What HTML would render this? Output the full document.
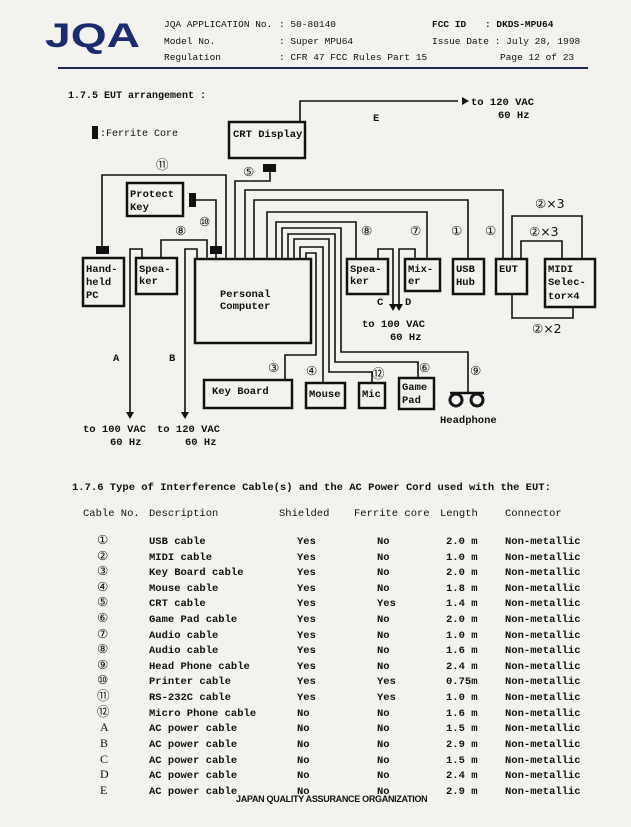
<!DOCTYPE html>
<html><head><meta charset="utf-8"><style>
html,body{margin:0;padding:0;background:#f3f2ee;}
svg{display:block}
text{font-family:"Liberation Mono",monospace;fill:#111;}
.b{font-weight:bold}
.c{font-family:'DejaVu Sans',sans-serif;font-weight:normal;font-size:12.5px}
.l{font-family:'Liberation Serif',serif;font-weight:normal;font-size:12px}
</style></head><body>
<svg width="631" height="827" viewBox="0 0 631 827" xmlns="http://www.w3.org/2000/svg">
<rect width="631" height="827" fill="#f3f2ee"/>
<!-- header -->
<text x="45" y="47" textLength="95" lengthAdjust="spacingAndGlyphs" style="font-family:'Liberation Sans',sans-serif;font-weight:bold;font-size:34px;fill:#1c2a6e">JQA</text>
<g font-size="9.5">
<text x="164" y="27">JQA APPLICATION No.</text><text x="279" y="27">: 50-80140</text>
<text x="164" y="44">Model No.</text><text x="279" y="44">: Super MPU64</text>
<text x="164" y="60">Regulation</text><text x="279" y="60">: CFR 47 FCC Rules Part 15</text>
<text x="432" y="27" class="b">FCC ID</text><text x="485" y="27" class="b">: DKDS-MPU64</text>
<text x="432" y="44">Issue Date : July 28, 1998</text>
<text x="500" y="60">Page 12 of 23</text>
</g>
<line x1="58" y1="68" x2="588" y2="68" stroke="#1c2a50" stroke-width="2"/>
<text x="68" y="98" font-size="10" class="b">1.7.5 EUT arrangement :</text>
<rect x="92" y="126" width="6" height="13" fill="#111"/>
<text x="100" y="136" font-size="10">:Ferrite Core</text>

<g fill="none" stroke="#111" stroke-width="1.6">
<polyline points="300,122 300,101 458,101"/>
<polyline points="102,249 102,175 226,175 226,259"/>
<polyline points="196,200 216,200 216,259"/>
<polyline points="161,258 161,240 207,240 207,259"/>
<polyline points="270,166 270,181 235,181 235,259"/>
<polyline points="245,259 245,190 503,190 503,259"/>
<polyline points="254,259 254,200 468,200 468,259"/>
<polyline points="267,259 267,212 427,212 427,259"/>
<polyline points="276,259 276,222 356,222 356,259"/>
<polyline points="282,259 282,228 341,228 341,352 468,352 468,393"/>
<polyline points="288,259 288,234 335,234 335,362 418,362 418,378"/>
<polyline points="294,259 294,239 329,239 329,372 372,372 372,383"/>
<polyline points="300,259 300,247 323,247 323,383"/>
<polyline points="306,259 306,253 316,253 316,355 285,355 285,380"/>
<polyline points="142,258 142,249 130,249 130,414"/>
<polyline points="197,259 197,249 185,249 185,414"/>
<polyline points="378,259 378,249 393,249 393,306"/>
<polyline points="415,259 415,249 399,249 399,306"/>
<polyline points="512,259 512,216 582,216 582,259"/>
<polyline points="521,259 521,241 562,241 562,259"/>
<polyline points="512,294 512,318 573,318 573,307"/>
<line x1="450" y1="393" x2="484" y2="393" stroke-width="2.5"/>
</g>
<g fill="#111">
<polygon points="462,97 462,105 469,101"/>
<polygon points="126,412 134,412 130,419"/>
<polygon points="181,412 189,412 185,419"/>
<polygon points="389,304 397,304 393,311"/>
<polygon points="395,304 403,304 399,311"/>
<rect x="96" y="246" width="13" height="8"/>
<rect x="210" y="246" width="12" height="8"/>
<rect x="189" y="193" width="7" height="14"/>
<rect x="263" y="164" width="13" height="8"/>
</g>
<g fill="none" stroke="#111" stroke-width="3">
<circle cx="456" cy="400" r="6"/><circle cx="477" cy="400" r="6"/>
</g>
<g fill="#f3f2ee" stroke="#111" stroke-width="2.5">
<rect x="229" y="122" width="76" height="36"/>
<rect x="127" y="183" width="56" height="33"/>
<rect x="83" y="258" width="41" height="48"/>
<rect x="136" y="258" width="41" height="36"/>
<rect x="195" y="259" width="116" height="84"/>
<rect x="347" y="259" width="41" height="35"/>
<rect x="405" y="259" width="35" height="32"/>
<rect x="453" y="259" width="31" height="35"/>
<rect x="496" y="259" width="31" height="35"/>
<rect x="545" y="259" width="50" height="48"/>
<rect x="204" y="380" width="88" height="28"/>
<rect x="306" y="383" width="39" height="25"/>
<rect x="359" y="383" width="26" height="25"/>
<rect x="399" y="378" width="35" height="31"/>
</g>
<g font-size="10.5" class="b">
<text x="233" y="137">CRT Display</text>
<text x="130" y="197">Protect</text><text x="130" y="210">Key</text>
<text x="86" y="272">Hand-</text><text x="86" y="285">held</text><text x="86" y="298">PC</text>
<text x="139" y="272">Spea-</text><text x="139" y="284">ker</text>
<text x="220" y="297">Personal</text><text x="220" y="309">Computer</text>
<text x="350" y="272">Spea-</text><text x="350" y="284">ker</text>
<text x="408" y="272">Mix-</text><text x="408" y="284">er</text>
<text x="456" y="272">USB</text><text x="456" y="285">Hub</text>
<text x="499" y="272">EUT</text>
<text x="548" y="272">MIDI</text><text x="548" y="285">Selec-</text><text x="548" y="299">tor×4</text>
<text x="212" y="394">Key Board</text>
<text x="309" y="397">Mouse</text>
<text x="362" y="397">Mic</text>
<text x="402" y="390">Game</text><text x="402" y="403">Pad</text>
<text x="440" y="423">Headphone</text>
<text x="373" y="121">E</text>
<text x="471" y="105">to 120 VAC</text><text x="498" y="118">60 Hz</text>
<text x="113" y="361">A</text><text x="169" y="361">B</text>
<text x="83" y="432">to 100 VAC</text><text x="110" y="445">60 Hz</text>
<text x="157" y="432">to 120 VAC</text><text x="185" y="445">60 Hz</text>
<text x="377" y="305">C</text><text x="405" y="305">D</text>
<text x="362" y="327">to 100 VAC</text><text x="390" y="340">60 Hz</text>
</g>
<g>
<text x="156" y="169" class="c">⑪</text>
<text x="243" y="176" class="c">⑤</text>
<text x="199" y="226" class="c">⑩</text>
<text x="175" y="235" class="c">⑧</text>
<text x="361" y="235" class="c">⑧</text>
<text x="410" y="235" class="c">⑦</text>
<text x="451" y="235" class="c">①</text>
<text x="485" y="235" class="c">①</text>
<text x="268" y="372" class="c">③</text>
<text x="306" y="375" class="c">④</text>
<text x="372" y="378" class="c">⑫</text>
<text x="419" y="372" class="c">⑥</text>
<text x="470" y="375" class="c">⑨</text>
<text x="535" y="208" class="c">②×3</text>
<text x="529" y="236" class="c">②×3</text>
<text x="532" y="333" class="c">②×2</text>
</g>

<text x="72" y="490" font-size="10.5" class="b">1.7.6 Type of Interference Cable(s) and the AC Power Cord used with the EUT:</text>
<g font-size="10.5">
<text x="83" y="516">Cable No.</text><text x="149" y="516">Description</text><text x="279" y="516">Shielded</text><text x="354" y="516">Ferrite core</text><text x="440" y="516">Length</text><text x="505" y="516">Connector</text>
</g>
<g font-size="10.5" class="b">
<text y="544"><tspan x="97" class="c">①</tspan><tspan x="149">USB cable</tspan><tspan x="297">Yes</tspan><tspan x="377">No</tspan><tspan x="446">2.0 m</tspan><tspan x="505">Non-metallic</tspan></text>
<text y="560"><tspan x="97" class="c">②</tspan><tspan x="149">MIDI cable</tspan><tspan x="297">Yes</tspan><tspan x="377">No</tspan><tspan x="446">1.0 m</tspan><tspan x="505">Non-metallic</tspan></text>
<text y="575"><tspan x="97" class="c">③</tspan><tspan x="149">Key Board cable</tspan><tspan x="297">Yes</tspan><tspan x="377">No</tspan><tspan x="446">2.0 m</tspan><tspan x="505">Non-metallic</tspan></text>
<text y="591"><tspan x="97" class="c">④</tspan><tspan x="149">Mouse cable</tspan><tspan x="297">Yes</tspan><tspan x="377">No</tspan><tspan x="446">1.8 m</tspan><tspan x="505">Non-metallic</tspan></text>
<text y="606"><tspan x="97" class="c">⑤</tspan><tspan x="149">CRT cable</tspan><tspan x="297">Yes</tspan><tspan x="377">Yes</tspan><tspan x="446">1.4 m</tspan><tspan x="505">Non-metallic</tspan></text>
<text y="622"><tspan x="97" class="c">⑥</tspan><tspan x="149">Game Pad cable</tspan><tspan x="297">Yes</tspan><tspan x="377">No</tspan><tspan x="446">2.0 m</tspan><tspan x="505">Non-metallic</tspan></text>
<text y="638"><tspan x="97" class="c">⑦</tspan><tspan x="149">Audio cable</tspan><tspan x="297">Yes</tspan><tspan x="377">No</tspan><tspan x="446">1.0 m</tspan><tspan x="505">Non-metallic</tspan></text>
<text y="653"><tspan x="97" class="c">⑧</tspan><tspan x="149">Audio cable</tspan><tspan x="297">Yes</tspan><tspan x="377">No</tspan><tspan x="446">1.6 m</tspan><tspan x="505">Non-metallic</tspan></text>
<text y="669"><tspan x="97" class="c">⑨</tspan><tspan x="149">Head Phone cable</tspan><tspan x="297">Yes</tspan><tspan x="377">No</tspan><tspan x="446">2.4 m</tspan><tspan x="505">Non-metallic</tspan></text>
<text y="684"><tspan x="97" class="c">⑩</tspan><tspan x="149">Printer cable</tspan><tspan x="297">Yes</tspan><tspan x="377">Yes</tspan><tspan x="446">0.75m</tspan><tspan x="505">Non-metallic</tspan></text>
<text y="700"><tspan x="97" class="c">⑪</tspan><tspan x="149">RS-232C cable</tspan><tspan x="297">Yes</tspan><tspan x="377">Yes</tspan><tspan x="446">1.0 m</tspan><tspan x="505">Non-metallic</tspan></text>
<text y="716"><tspan x="97" class="c">⑫</tspan><tspan x="149">Micro Phone cable</tspan><tspan x="297">No</tspan><tspan x="377">No</tspan><tspan x="446">1.6 m</tspan><tspan x="505">Non-metallic</tspan></text>
<text y="731"><tspan x="100" class="l">A</tspan><tspan x="149">AC power cable</tspan><tspan x="297">No</tspan><tspan x="377">No</tspan><tspan x="446">1.5 m</tspan><tspan x="505">Non-metallic</tspan></text>
<text y="747"><tspan x="100" class="l">B</tspan><tspan x="149">AC power cable</tspan><tspan x="297">No</tspan><tspan x="377">No</tspan><tspan x="446">2.9 m</tspan><tspan x="505">Non-metallic</tspan></text>
<text y="763"><tspan x="100" class="l">C</tspan><tspan x="149">AC power cable</tspan><tspan x="297">No</tspan><tspan x="377">No</tspan><tspan x="446">1.5 m</tspan><tspan x="505">Non-metallic</tspan></text>
<text y="778"><tspan x="100" class="l">D</tspan><tspan x="149">AC power cable</tspan><tspan x="297">No</tspan><tspan x="377">No</tspan><tspan x="446">2.4 m</tspan><tspan x="505">Non-metallic</tspan></text>
<text y="794"><tspan x="100" class="l">E</tspan><tspan x="149">AC power cable</tspan><tspan x="297">No</tspan><tspan x="377">No</tspan><tspan x="446">2.9 m</tspan><tspan x="505">Non-metallic</tspan></text>
</g>
<text x="236" y="802" style="font-family:'Liberation Sans',sans-serif;font-weight:bold;font-size:9px;letter-spacing:-0.3px">JAPAN QUALITY ASSURANCE ORGANIZATION</text>
</svg>
</body></html>
